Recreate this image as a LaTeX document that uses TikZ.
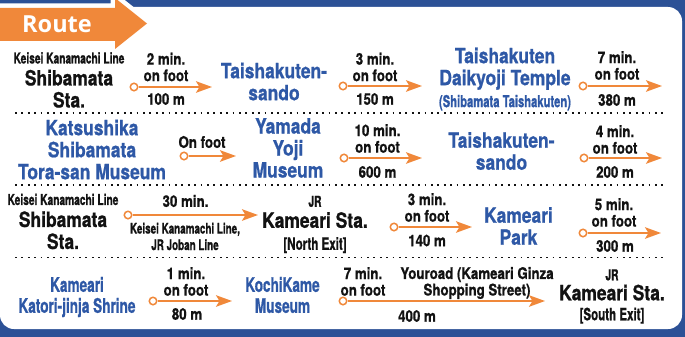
\documentclass[tikz,border=0pt]{standalone}
\usepackage{fontspec}
\setmainfont{TeX Gyre Heros}
\newfontfamily\condfont[FakeStretch=0.83,BoldFeatures={FakeBold=0.8}]{TeX Gyre Heros}
\newfontfamily\narrowfont[FakeStretch=0.68,BoldFeatures={FakeBold=0.8}]{TeX Gyre Heros}
\newfontfamily\tabfont{Open Sans}
\usetikzlibrary{arrows.meta}
\definecolor{frame}{HTML}{2C5196}
\definecolor{spot}{HTML}{2E58A6}
\definecolor{walk}{HTML}{F0883A}
\definecolor{ink}{HTML}{121212}
\tikzset{
  station text/.style={font=\condfont\bfseries\fontsize{21}{22}\selectfont,text=ink,align=center,inner sep=0pt},
  spot text/.style={font=\condfont\bfseries\fontsize{21}{22}\selectfont,text=spot,align=center,inner sep=0pt},
  narrow spot/.style={font=\narrowfont\bfseries\fontsize{20}{21}\selectfont,text=spot,align=center,inner sep=0pt},
  walk text/.style={font=\condfont\bfseries\fontsize{16}{16.5}\selectfont,text=ink,align=center,inner sep=0pt},
  line text/.style={font=\narrowfont\bfseries\fontsize{14.5}{16.5}\selectfont,text=ink,align=center,inner sep=0pt},
  start dot/.style={circle,draw=walk,fill=white,line width=1.5pt,inner sep=0pt,minimum size=7.5pt},
  walk arrow/.style={draw=walk,line width=1.9pt,-{Stealth[length=16pt,width=11.5pt,inset=3.5pt]}},
  row rule/.style={draw=ink,line width=1.7pt,dash pattern=on 1.7pt off 4.7pt}
}
\newcommand{\smallline}[1]{{\narrowfont\fontsize{15}{16}\selectfont #1}}
\newcommand{\exitline}[1]{{\narrowfont\fontsize{17}{18}\selectfont #1}}

\begin{document}
\begin{tikzpicture}[x=1pt,y=-1pt]
  \path[use as bounding box] (0,0) rectangle (685,337);
  \fill[frame] (0,0) rectangle (685,337);
  \fill[white,rounded corners=14pt] (0,7) rectangle (682,329);

  % Route tab.
  \draw[white,line width=9pt,line join=miter]
    (-10,8) -- (115,8) -- (115,-2) -- (147,23.5) -- (115,49) -- (115,41) -- (-10,41) -- cycle;
  \fill[walk]
    (-10,8) -- (115,8) -- (115,-2) -- (147,23.5) -- (115,49) -- (115,41) -- (-10,41) -- cycle;
  \node[font=\tabfont\bfseries\fontsize{23.5}{25}\selectfont,text=white,inner sep=0pt]
    (routetab) at (57,24.5) {Route};

  % Row separators.
  \draw[row rule] (15,113) -- (667,113);
  \draw[row rule] (15,185) -- (667,185);
  \draw[row rule] (15,257.5) -- (667,257.5);

  % Row 1: Shibamata Sta. to Taishakuten Daikyoji Temple.
  \node[station text] (shibamata1) at (69,80)
    {\smallline{Keisei Kanamachi Line}\\Shibamata\\Sta.};
  \node[walk text] (time1) at (166,67) {2 min.\\on foot};
  \node[walk text] (dist1) at (166,99) {100 m};
  \node[start dot] (dot1) at (134,87) {};
  \coordinate (tip1) at (212,87);
  \draw[walk arrow] (dot1) -- (tip1);

  \node[spot text] (sando1) at (274,81.5) {Taishakuten-\\sando};
  \node[walk text] (time2) at (375,67) {3 min.\\on foot};
  \node[walk text] (dist2) at (375,99) {150 m};
  \node[start dot] (dot2) at (343,86) {};
  \coordinate (tip2) at (422,86);
  \draw[walk arrow] (dot2) -- (tip2);

  \node[spot text] (temple) at (505,79)
    {Taishakuten\\Daikyoji Temple\\{\narrowfont\fontsize{16.5}{18}\selectfont (Shibamata Taishakuten)}};
  \node[walk text] (time3) at (617,65.5) {7 min.\\on foot};
  \node[walk text] (dist3) at (617,100) {380 m};
  \node[start dot] (dot3) at (583,86) {};
  \coordinate (tip3) at (662,86);
  \draw[walk arrow] (dot3) -- (tip3);

  % Row 2: the two museums and back to the approach.
  \node[spot text] (torasan) at (92,149.5)
    {Katsushika\\Shibamata\\Tora-san Museum};
  \node[walk text] (time4) at (202,142) {On foot};
  \node[start dot] (dot4) at (184,156) {};
  \coordinate (tip4) at (236,156);
  \draw[walk arrow] (dot4) -- (tip4);

  \node[spot text] (yamada) at (288,148) {Yamada\\Yoji\\Museum};
  \node[walk text] (time5) at (377.5,138.5) {10 min.\\on foot};
  \node[walk text] (dist5) at (377.5,172) {600 m};
  \node[start dot] (dot5) at (344,158) {};
  \coordinate (tip5) at (422,158);
  \draw[walk arrow] (dot5) -- (tip5);

  \node[spot text] (sando2) at (501.5,151) {Taishakuten-\\sando};
  \node[walk text] (time6) at (615,139.5) {4 min.\\on foot};
  \node[walk text] (dist6) at (615,172) {200 m};
  \node[start dot] (dot6) at (584,158) {};
  \coordinate (tip6) at (662,158);
  \draw[walk arrow] (dot6) -- (tip6);

  % Row 3: by train to Kameari, then Kameari Park.
  \node[station text] (shibamata2) at (63,221.5)
    {\smallline{Keisei Kanamachi Line}\\Shibamata\\Sta.};
  \node[walk text] (time7) at (185.5,201) {30 min.};
  \node[line text] (lines7) at (185,236.5) {Keisei Kanamachi Line,\\JR Joban Line};
  \node[start dot] (dot7) at (128,215) {};
  \coordinate (tip7) at (258,215);
  \draw[walk arrow] (dot7) -- (tip7);

  \node[station text] (kamearinorth) at (315,224.5)
    {\smallline{JR}\\[-1pt]Kameari Sta.\\\exitline{[North Exit]}};
  \node[walk text] (time8) at (427,207.5) {3 min.\\on foot};
  \node[walk text] (dist8) at (427,240.5) {140 m};
  \node[start dot] (dot8) at (394,227) {};
  \coordinate (tip8) at (472,227);
  \draw[walk arrow] (dot8) -- (tip8);

  \node[spot text] (park) at (518.5,226) {Kameari\\Park};
  \node[walk text] (time9) at (614,212.5) {5 min.\\on foot};
  \node[walk text] (dist9) at (615,246) {300 m};
  \node[start dot] (dot9) at (583,233) {};
  \coordinate (tip9) at (661,233);
  \draw[walk arrow] (dot9) -- (tip9);

  % Row 4: shrine, KochiKame Museum and the Youroad.
  \node[narrow spot] (shrine) at (77,297) {Kameari\\Katori-jinja Shrine};
  \node[walk text] (time10) at (186,281.5) {1 min.\\on foot};
  \node[walk text] (dist10) at (187,314) {80 m};
  \node[start dot] (dot10) at (153,301) {};
  \coordinate (tip10) at (232,301);
  \draw[walk arrow] (dot10) -- (tip10);

  \node[narrow spot] (kochikame) at (282.5,295) {KochiKame\\Museum};
  \node[walk text] (time11) at (363,281.5) {7 min.\\on foot};
  \node[walk text] (youroad) at (477,283) {Youroad (Kameari Ginza\\Shopping Street)};
  \node[walk text] (dist11) at (417,316) {400 m};
  \node[start dot] (dot11) at (343,301) {};
  \coordinate (tip11) at (545,301);
  \draw[walk arrow] (dot11) -- (tip11);

  \node[station text] (kamearisouth) at (612,296.5)
    {\smallline{JR}\\[-2pt]Kameari Sta.\\[-2pt]\exitline{[South Exit]}};
\end{tikzpicture}
\end{document}
